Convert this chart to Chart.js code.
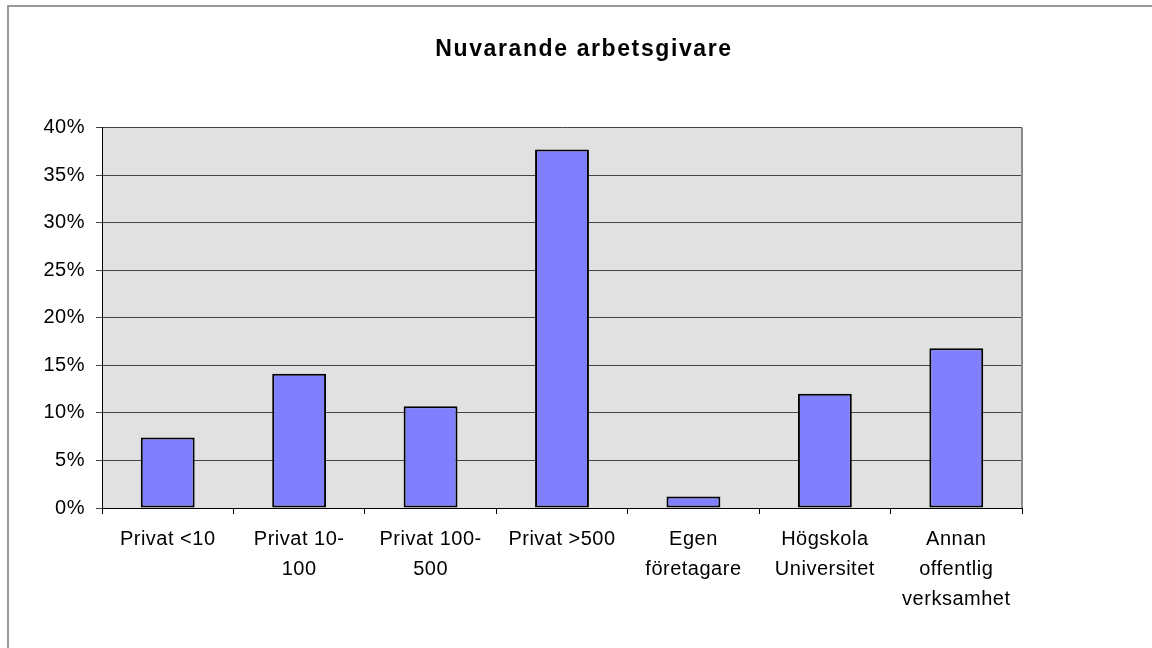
<!DOCTYPE html>
<html>
<head>
<meta charset="utf-8">
<script src="https://cdn.jsdelivr.net/npm/chart.js@4/dist/chart.umd.min.js"></script>
<style>
html,body{margin:0;padding:0;background:#fff;}
#wrap{position:relative;width:1152px;height:648px;overflow:hidden;}
canvas{display:block;}
</style>
</head>
<body>
<div id="wrap"><canvas id="c" width="1152" height="648"></canvas></div>
<script>
const titleText = "Nuvarande arbetsgivare";
const categories = [
  ["Privat <10"],
  ["Privat 10-", "100"],
  ["Privat 100-", "500"],
  ["Privat >500"],
  ["Egen", "företagare"],
  ["Högskola", "Universitet"],
  ["Annan", "offentlig", "verksamhet"]
];
const values = [7.4, 14.1, 10.7, 37.7, 1.2, 12.0, 16.8];
const yTickValues = [0, 5, 10, 15, 20, 25, 30, 35, 40];

const FONT = "'Liberation Sans', Arial, sans-serif";

const decor = {
  id: 'decor',
  beforeDraw(chart) {
    const ctx = chart.ctx, a = chart.chartArea;
    ctx.save();
    ctx.fillStyle = '#ffffff';
    ctx.fillRect(0, 0, chart.width, chart.height);
    ctx.strokeStyle = '#7a7a7a';
    ctx.lineWidth = 1.5;
    ctx.beginPath();
    ctx.moveTo(8, chart.height + 5);
    ctx.lineTo(8, 6);
    ctx.lineTo(chart.width + 5, 6);
    ctx.stroke();
    ctx.fillStyle = '#e1e1e1';
    ctx.fillRect(a.left, a.top, a.right - a.left, a.bottom - a.top);
    ctx.restore();
    ctx.letterSpacing = '0.5px';
    const tb = chart.titleBlock;
    if (tb && !tb._wrapped) {
      const orig = tb.draw;
      tb.draw = function () {
        const c = this.ctx;
        c.save();
        c.letterSpacing = '1.6px';
        c.translate(73, 0);
        orig.apply(this, arguments);
        c.restore();
      };
      tb._wrapped = true;
    }
  },
  afterDraw(chart) {
    const ctx = chart.ctx, a = chart.chartArea;
    ctx.save();
    ctx.strokeStyle = '#8a8a8a';
    ctx.lineWidth = 2;
    ctx.beginPath();
    ctx.moveTo(a.right, a.top);
    ctx.lineTo(a.right, a.bottom);
    ctx.stroke();
    ctx.restore();
  }
};

new Chart(document.getElementById('c'), {
  type: 'bar',
  data: {
    labels: categories,
    datasets: [{
      data: values,
      backgroundColor: '#8080ff',
      borderColor: '#000000',
      borderWidth: 2,
      borderSkipped: false,
      categoryPercentage: 1.0,
      barPercentage: 0.41
    }]
  },
  options: {
    responsive: false,
    animation: false,
    devicePixelRatio: 1,
    layout: { padding: { left: 0, right: 130, top: 0, bottom: 0 } },
    plugins: {
      legend: { display: false },
      tooltip: { enabled: false },
      title: {
        display: true,
        text: titleText,
        color: '#000',
        font: { family: FONT, size: 23, weight: 'bold', lineHeight: 1.2 },
        padding: { top: 35.5, bottom: 64.4 }
      }
    },
    scales: {
      x: {
        offset: true,
        grid: { display: true, drawOnChartArea: false, color: '#000', tickLength: 6, offset: true },
        border: { display: true, color: '#000', width: 1 },
        ticks: {
          color: '#000',
          padding: 10,
          maxRotation: 0,
          autoSkip: false,
          font: { family: FONT, size: 20, lineHeight: 1.5 }
        },
        afterFit(scale) { scale.height = 140; }
      },
      y: {
        min: 0,
        max: 40,
        afterBuildTicks(scale) { scale.ticks = yTickValues.map(v => ({ value: v })); },
        grid: { color: '#444', lineWidth: 1, tickLength: 6 },
        border: { display: true, color: '#000', width: 1 },
        ticks: {
          color: '#000',
          padding: 11,
          font: { family: FONT, size: 20, lineHeight: 1.2 },
          callback: v => v + '%'
        },
        afterFit(scale) { scale.width = 102; }
      }
    }
  },
  plugins: [decor]
});
</script>
</body>
</html>
